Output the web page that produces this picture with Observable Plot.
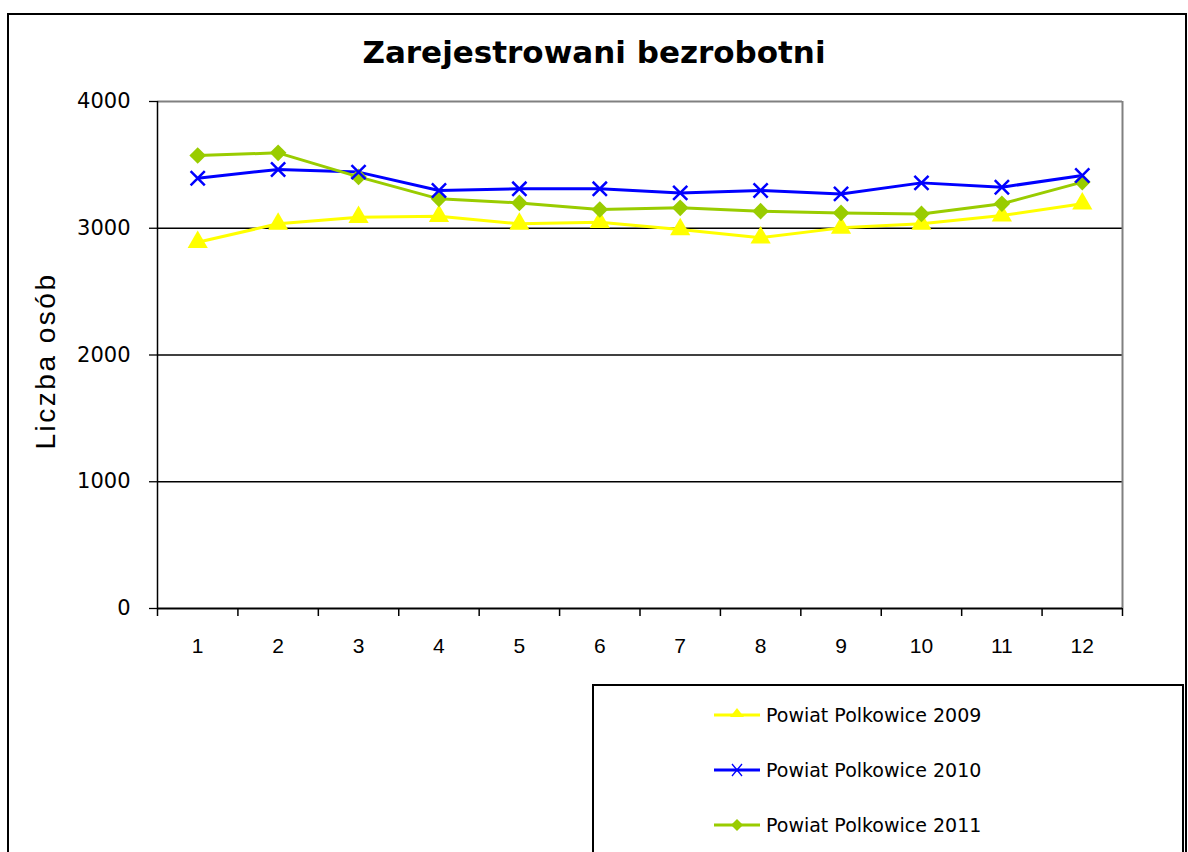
<!DOCTYPE html>
<html>
<head>
<meta charset="utf-8">
<script src="https://cdn.jsdelivr.net/npm/d3@7"></script>
<script src="https://cdn.jsdelivr.net/npm/@observablehq/plot@0.6"></script>
<style>
  html, body { margin: 0; padding: 0; background: #fff; }
  #wrap { position: relative; width: 1188px; height: 852px; overflow: hidden; background: #fff; }
  #frame { position: absolute; left: 7px; top: 13px; width: 1180px; height: 900px; border: 2px solid #000; box-sizing: border-box; }
  #title { position: absolute; left: 0; width: 1188px; top: 34px; text-align: center; font-family: "DejaVu Sans", sans-serif; font-weight: bold; font-size: 31px; color: #000; }
  #ylabel { position: absolute; left: 46px; top: 361px; transform: translate(-50%, -50%) rotate(-90deg); font-family: "Liberation Sans", Arial, sans-serif; font-size: 28px; letter-spacing: 2.5px; white-space: nowrap; color: #000; }
  #chart { position: absolute; left: 0; top: 0; }
  #legend { position: absolute; left: 592px; top: 684px; width: 592px; height: 200px; border: 2px solid #000; box-sizing: border-box; background: #fff; }
  .item { position: absolute; left: 120px; height: 30px; display: flex; align-items: center; font-family: "DejaVu Sans", sans-serif; font-size: 19px; color: #000; }
  .item svg { margin-right: 4px; }
  .yax text { font-family: "DejaVu Sans", sans-serif; font-size: 21px; }
</style>
</head>
<body>
<div id="wrap">
  <div id="frame"></div>
  <div id="chart"></div>
  <div id="title">Zarejestrowani bezrobotni</div>
  <div id="ylabel">Liczba osób</div>
  <div id="legend"></div>
</div>
<script>
// Data
const months = [1, 2, 3, 4, 5, 6, 7, 8, 9, 10, 11, 12];
const seriesNames = ["Powiat Polkowice 2009", "Powiat Polkowice 2010", "Powiat Polkowice 2011"];
const y2009 = [2890, 3035, 3087, 3095, 3035, 3048, 2990, 2925, 3003, 3035, 3100, 3193];
const y2010 = [3395, 3464, 3443, 3298, 3311, 3311, 3279, 3298, 3271, 3358, 3324, 3416];
const y2011 = [3574, 3595, 3405, 3232, 3200, 3148, 3161, 3135, 3121, 3113, 3193, 3364];
const yTicks = [0, 1000, 2000, 3000, 4000];
const colors = ["#FFFF00", "#0000FF", "#99CC00"];
const symbols = ["triangle", "times", "diamond2"];

const valuesBySeries = [y2009, y2010, y2011];
const data = [];
seriesNames.forEach((s, i) => months.forEach((m, j) => data.push({series: s, month: m, value: valuesBySeries[i][j]})));

const boundaries = d3.range(0.5, 13, 1);

const chart = Plot.plot({
  width: 1188,
  height: 680,
  marginTop: 101,
  marginBottom: 72,
  marginLeft: 157,
  marginRight: 66,
  style: {fontFamily: "Liberation Sans, Arial, sans-serif", fontSize: "21px", color: "#000", background: "transparent"},
  x: {type: "linear", domain: [0.5, 12.5]},
  y: {domain: [0, 4000]},
  color: {domain: seriesNames, range: colors},
  symbol: {domain: seriesNames, range: symbols},
  marks: [
    Plot.ruleY([1000, 2000, 3000], {stroke: "#000", strokeWidth: 1.3}),
    Plot.ruleY([4000], {stroke: "#808080", strokeWidth: 2}),
    Plot.ruleX([12.5], {stroke: "#808080", strokeWidth: 2}),
    Plot.ruleX([0.5], {stroke: "#000", strokeWidth: 1.5}),
    Plot.ruleY([0], {stroke: "#000", strokeWidth: 2}),
    Plot.axisY({ticks: yTicks, tickSize: 8, tickPadding: 19, tickFormat: d => String(d), label: null, strokeWidth: 1.3, className: "yax"}),
    Plot.axisX({ticks: boundaries, tickSize: 8, tickFormat: () => "", label: null, strokeWidth: 1.5}),
    Plot.axisX({ticks: months, tickSize: 0, tickPadding: 30, tickFormat: d => String(d), label: null}),
    Plot.line(data, {x: "month", y: "value", z: "series", stroke: "series", strokeWidth: 3}),
    Plot.dot(data.filter(d => d.series !== seriesNames[1]), {x: "month", y: "value", symbol: "series", fill: "series", r: 7.5}),
    Plot.dot(data.filter(d => d.series === seriesNames[1]), {x: "month", y: "value", symbol: "series", stroke: "series", r: 6.5, strokeWidth: 2.5})
  ]
});
document.getElementById("chart").appendChild(chart);

// Legend
const legend = document.getElementById("legend");
const rowTops = [14, 69, 124];
seriesNames.forEach((name, i) => {
  const item = document.createElement("div");
  item.className = "item";
  item.style.top = rowTops[i] + "px";
  const sym = symbols[i];
  let shape = "";
  if (sym === "triangle") shape = `<path d="M23,8 L30,17 L16,17 Z" fill="${colors[i]}"/>`;
  else if (sym === "times") shape = `<path d="M18,9 L28,21 M28,9 L18,21" stroke="${colors[i]}" stroke-width="1.3" fill="none"/>`;
  else shape = `<path d="M23,9 L29,15 L23,21 L17,15 Z" fill="${colors[i]}"/>`;
  item.innerHTML = `<svg width="48" height="30"><line x1="0" y1="15" x2="46" y2="15" stroke="${colors[i]}" stroke-width="3"/>${shape}</svg><span>${name}</span>`;
  legend.appendChild(item);
});
</script>
</body>
</html>
